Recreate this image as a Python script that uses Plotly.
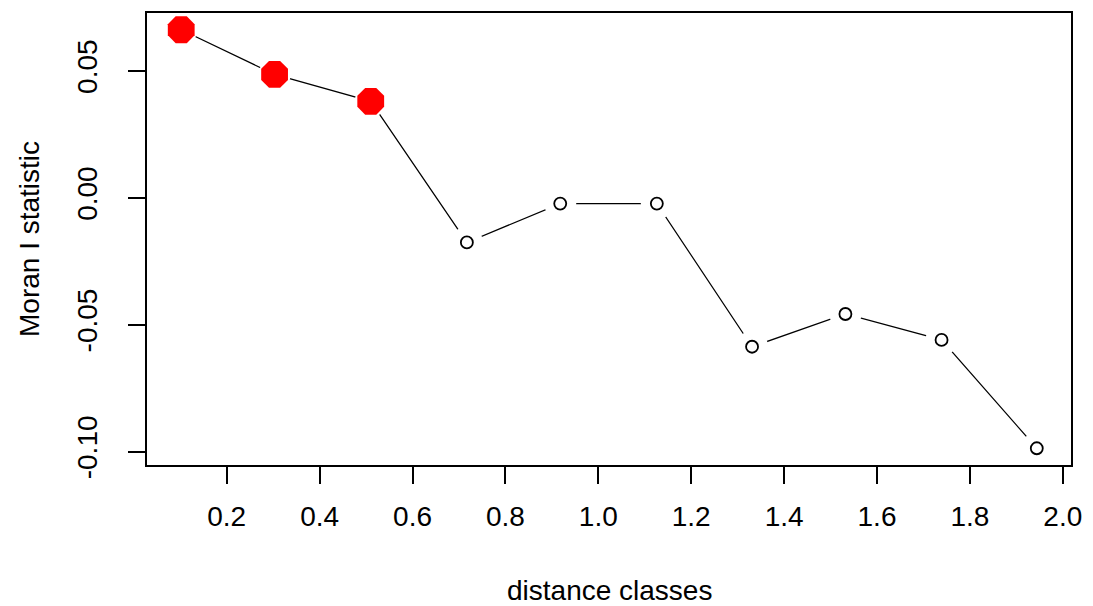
import plotly.graph_objects as go

# Moran's I correlogram: distance class midpoints and statistic per class
distance_classes = [0.102, 0.303, 0.510, 0.717, 0.918, 1.126, 1.331, 1.532, 1.739, 1.944]
moran_i = [0.0662, 0.0486, 0.0380, -0.0176, -0.0023, -0.0023, -0.0587, -0.0458, -0.0560, -0.0987]
significant = [True, True, True, False, False, False, False, False, False, False]

x_ticks = [0.2, 0.4, 0.6, 0.8, 1.0, 1.2, 1.4, 1.6, 1.8, 2.0]
y_ticks = [-0.10, -0.05, 0.00, 0.05]

FONT = "Liberation Sans, Arial, sans-serif"
FS = 28

# axis ranges padded by 4% like base R graphics
def padded(vals):
    lo, hi = min(vals), max(vals)
    d = (hi - lo) * 0.04
    return [lo - d, hi + d]

sig_x = [x for x, s in zip(distance_classes, significant) if s]
sig_y = [y for y, s in zip(moran_i, significant) if s]
ns_x = [x for x, s in zip(distance_classes, significant) if not s]
ns_y = [y for y, s in zip(moran_i, significant) if not s]

fig = go.Figure()

# connecting line
fig.add_trace(go.Scatter(
    x=distance_classes, y=moran_i, mode="lines",
    line=dict(color="black", width=1.2), hoverinfo="skip", showlegend=False))

# white halo leaves a gap in the line around each point (type="b" style)
fig.add_trace(go.Scatter(
    x=distance_classes, y=moran_i, mode="markers",
    marker=dict(size=32, color="white", line=dict(width=0)),
    hoverinfo="skip", showlegend=False))

# non-significant classes: open circles
fig.add_trace(go.Scatter(
    x=ns_x, y=ns_y, mode="markers",
    marker=dict(size=12, color="white", symbol="circle",
                line=dict(color="black", width=1.8)),
    showlegend=False))

# significant classes: filled red
fig.add_trace(go.Scatter(
    x=sig_x, y=sig_y, mode="markers",
    marker=dict(size=29, color="red", symbol="octagon", line=dict(width=0)),
    showlegend=False))

axis_common = dict(
    showgrid=False, zeroline=False, showline=True, linecolor="black",
    linewidth=1.5, mirror=True, ticks="outside", ticklen=17, tickwidth=1.5,
    tickcolor="black", tickfont=dict(family=FONT, size=FS, color="black"),
)

fig.update_layout(
    width=1093, height=606,
    margin=dict(l=147, r=17, t=11, b=141),
    paper_bgcolor="white", plot_bgcolor="white",
    font=dict(family=FONT, size=FS, color="black"),
    xaxis=dict(range=padded(distance_classes), tickvals=x_ticks,
               ticktext=[f"{v:.1f}" for v in x_ticks], ticklabelstandoff=9,
               **axis_common),
    yaxis=dict(range=padded(moran_i), tickvals=y_ticks,
               ticktext=[f"{v:.2f}" for v in y_ticks], tickangle=-90,
               ticklabelstandoff=20, **axis_common),
    annotations=[
        dict(text="distance classes", xref="paper", yref="paper",
             x=0.5, y=0, yshift=-125, xanchor="center", yanchor="middle",
             showarrow=False, font=dict(family=FONT, size=FS, color="black")),
        dict(text="Moran I statistic", xref="paper", yref="paper",
             x=0, y=0.5, xshift=-118, xanchor="center", yanchor="middle",
             textangle=-90, showarrow=False,
             font=dict(family=FONT, size=FS, color="black")),
    ],
)

fig.write_html("out.html")
